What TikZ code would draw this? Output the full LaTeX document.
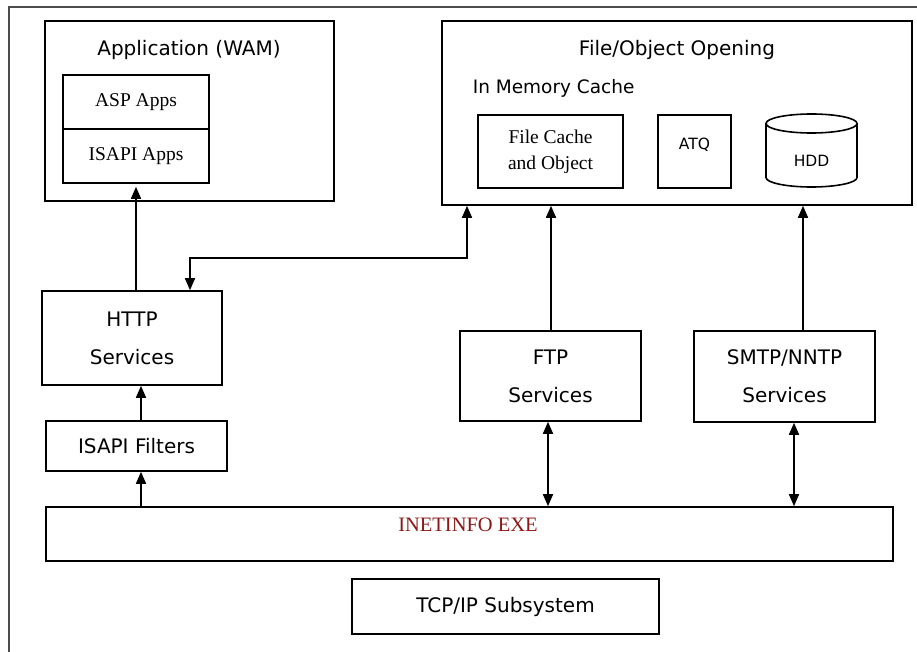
\documentclass[tikz,border=0pt]{standalone}
\usepackage{fontspec}
\setmainfont{Liberation Serif}
\setsansfont{DejaVu Sans}
\usetikzlibrary{arrows.meta}
\definecolor{exered}{RGB}{140,22,22}

\begin{document}
\begin{tikzpicture}[x=1pt, y=-1pt, line width=1.6pt, >={Triangle[length=12pt,width=10pt]}]
  \tikzstyle{block} = [draw, rectangle, inner sep=0pt]
  \tikzstyle{sans} = [inner sep=0pt, align=center, font=\sffamily\fontsize{20}{38}\selectfont]
  \tikzstyle{small} = [inner sep=0pt, font=\sffamily\fontsize{15.5}{18}\selectfont]
  \tikzstyle{serif} = [inner sep=0pt, align=center, font=\rmfamily\fontsize{19.5}{26}\selectfont]
  \tikzstyle{exe} = [inner sep=0pt, text=exered, font=\rmfamily\fontsize{20.5}{24}\selectfont]
  \useasboundingbox (0,0) rectangle (917,652);
  \draw [gray!60!black, line width=2pt] (9,652) -- (9,7) -- (917,7);

  % application side
  \node [block, minimum width=289, minimum height=180] (app) at (189.5,111) {};
  \node [sans] (apptitle) at (189,50) {Application (WAM)};
  \node [block, serif, minimum width=146, minimum height=54] (asp) at (136,102) {ASP Apps};
  \node [block, serif, minimum width=146, minimum height=54] (isapi) at (136,156) {ISAPI Apps};

  % file/object side
  \node [block, minimum width=470, minimum height=184] (fileobj) at (677,113) {};
  \node [sans] (fotitle) at (677,50) {File/Object Opening};
  \node [sans, anchor=west, font=\sffamily\fontsize{18.5}{22}\selectfont] (memcache) at (472,88) {In Memory Cache};
  \node [block, serif, minimum width=145, minimum height=73] (filecache) at (550.5,151.5) {File Cache\\and Object};
  \node [block, minimum width=73, minimum height=73] (atq) at (694.5,151.5) {};
  \node [small] (atqtext) at (694.5,145) {ATQ};
  \draw (766,123.5) -- (766,177.5) arc [start angle=180, end angle=0, x radius=45.5, y radius=9.5] -- (857,123.5);
  \draw (811.5,123.5) ellipse [x radius=45.5, y radius=9.5];
  \node [small] (hdd) at (811.5,161) {HDD};

  % services
  \node [block, sans, minimum width=180, minimum height=94] (http) at (132,338) {HTTP\\Services};
  \node [block, sans, minimum width=181, minimum height=50] (filters) at (136.5,446) {ISAPI Filters};
  \node [block, sans, minimum width=181, minimum height=90] (ftp) at (550.5,376) {FTP\\Services};
  \node [block, sans, minimum width=181, minimum height=91] (smtp) at (784.5,376.5) {SMTP/NNTP\\Services};
  \node [block, minimum width=847, minimum height=54] (inet) at (469.5,534) {};
  \node [exe] (exetext) at (468,525) {INETINFO EXE};
  \node [block, sans, minimum width=307, minimum height=55] (tcpip) at (505.5,606.5) {TCP/IP Subsystem};

  \draw [->, shorten >=3pt] (http.north -| isapi.south) -- (isapi.south);
  \draw [<->] ([xshift=58pt]http.north) -- ++(0,-32) -| ([xshift=-210pt]fileobj.south);
  \draw [->] ([xshift=4.5pt]filters.north) -- ([xshift=4.5pt]filters.north |- http.south);
  \draw [->] ([xshift=4.5pt]filters.south |- inet.north) -- ([xshift=4.5pt]filters.south);
  \draw [->] ([xshift=0.5pt]ftp.north) -- ([xshift=0.5pt]ftp.north |- fileobj.south);
  \draw [<->] ([xshift=-2.5pt]ftp.south) -- ([xshift=-2.5pt]ftp.south |- inet.north);
  \draw [->] ([xshift=18.5pt]smtp.north) -- ([xshift=18.5pt]smtp.north |- fileobj.south);
  \draw [<->] ([xshift=9.5pt]smtp.south) -- ([xshift=9.5pt]smtp.south |- inet.north);
\end{tikzpicture}
\end{document}
